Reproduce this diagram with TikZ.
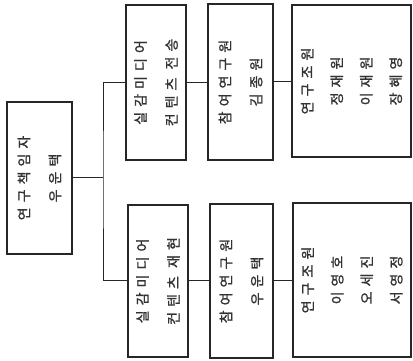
\documentclass[tikz,border=0pt]{standalone}
\usepackage{fontspec}
\newfontfamily\kr[LetterSpace=36,FakeBold=1.2]{Noto Sans CJK KR}
\begin{document}
\begin{tikzpicture}[x=1pt,y=1pt,
  box/.style={draw=black!85, line width=1.5pt, rectangle, inner sep=0pt, fill=white},
  txt/.style={rotate=90, align=center, text=black!80, font=\kr\fontsize{14}{31}\selectfont},
  txtfour/.style={txt, font=\kr\fontsize{14}{29.5}\selectfont},
  link/.style={draw=black!85, line width=1pt}]
\useasboundingbox (0,0) rectangle (413,361);
% boxes
\node[box, minimum width=65pt, minimum height=152pt] (root) at (39.5,183) {};
\node[box, minimum width=60pt, minimum height=155pt] (l2t) at (156,278.5) {};
\node[box, minimum width=65pt, minimum height=156pt] (l3t) at (240.5,279) {};
\node[box, minimum width=119pt, minimum height=152pt] (l4t) at (351.5,280) {};
\node[box, minimum width=60pt, minimum height=152pt] (l2b) at (158,80) {};
\node[box, minimum width=63pt, minimum height=154pt] (l3b) at (241.5,80) {};
\node[box, minimum width=118pt, minimum height=154pt] (l4b) at (352,81) {};
% texts
\node[txt] (troot) at (root.center) {연구책임자\\우운택};
\node[txt] (tl2t) at (l2t.center) {실감미디어\\컨텐츠 전송};
\node[txt] (tl3t) at (l3t.center) {참여연구원\\김종원};
\node[txtfour] (tl4t) at (l4t.center) {연구조원\\정재원\\이재원\\장혜영};
\node[txt] (tl2b) at (l2b.center) {실감미디어\\컨텐츠 재현};
\node[txt] (tl3b) at (l3b.center) {참여연구원\\우운택};
\node[txtfour] (tl4b) at (l4b.center) {연구조원\\이영호\\오세진\\서영정};
% connectors
\coordinate (j) at (103,183);
\draw[link] (root.east) -- (j);
\draw[link] (l2t.west) -| (j) |- (l2b.west);
\draw[link] (l2t.east) -- (l3t.west |- l2t.east);
\draw[link] (l3t.east) -- (l4t.west |- l3t.east);
\draw[link] (l2b.east) -- (l3b.west |- l2b.east);
\draw[link] (l3b.east) -- (l4b.west |- l3b.east);
\end{tikzpicture}
\end{document}
